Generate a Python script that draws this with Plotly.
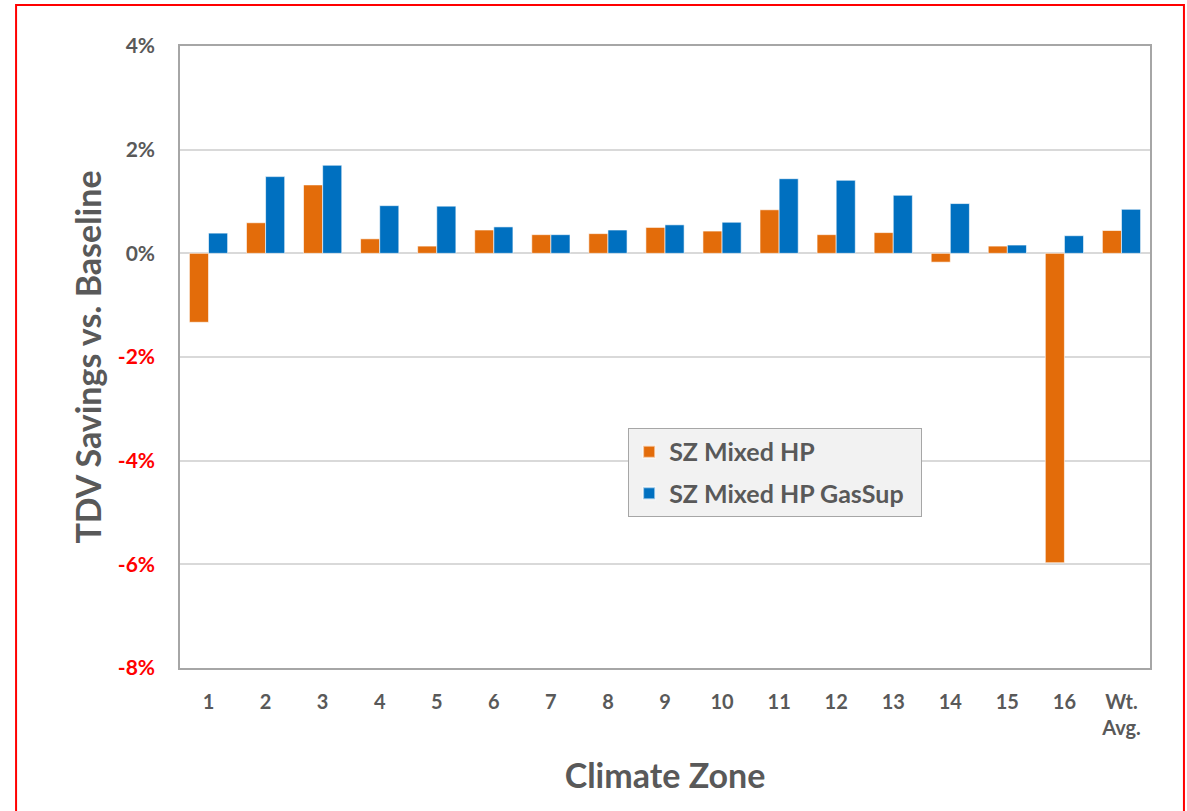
import plotly.graph_objects as go

zones = ["1", "2", "3", "4", "5", "6", "7", "8", "9", "10", "11", "12",
         "13", "14", "15", "16", "Wt.<br>Avg."]
mixed_hp = [-1.33, 0.59, 1.32, 0.28, 0.14, 0.45, 0.36, 0.38, 0.50, 0.43,
            0.84, 0.36, 0.40, -0.17, 0.14, -5.97, 0.44]
mixed_hp_gassup = [0.39, 1.48, 1.70, 0.92, 0.91, 0.51, 0.36, 0.45, 0.55, 0.60,
                   1.44, 1.41, 1.12, 0.96, 0.16, 0.34, 0.85]

tick_vals = [4, 2, 0, -2, -4, -6, -8]
tick_text = ["4%", "2%", "0%",
             "<span style='color:#ff0000'>-2%</span>",
             "<span style='color:#ff0000'>-4%</span>",
             "<span style='color:#ff0000'>-6%</span>",
             "<span style='color:#ff0000'>-8%</span>"]

GREY = "#595959"
FONT = "Lato"

fig = go.Figure()
fig.add_trace(go.Bar(x=zones, y=mixed_hp, name="SZ Mixed HP", legendgroup="a",
                     marker=dict(color="#E36C0A",
                                 line=dict(color="rgba(255,255,255,0.6)", width=1))))
fig.add_trace(go.Bar(x=zones, y=mixed_hp_gassup, name="SZ Mixed HP GasSup&nbsp;&nbsp;",
                     legendgroup="b",
                     marker=dict(color="#0070C0",
                                 line=dict(color="rgba(255,255,255,0.6)", width=1))))

fig.update_layout(
    width=1187, height=811,
    margin=dict(l=180, r=37, t=46, b=143),
    paper_bgcolor="white", plot_bgcolor="white",
    barmode="group", bargap=0.33, bargroupgap=0,
    font=dict(family=FONT, color=GREY),
    showlegend=True,
    legend=dict(x=0.462, y=0.386, xanchor="left", yanchor="top",
                bgcolor="#f2f2f2", bordercolor="#a6a6a6", borderwidth=1,
                font=dict(family=FONT, size=25, color=GREY, weight="bold"),
                itemsizing="constant", tracegroupgap=6),
    xaxis=dict(
        showgrid=False, showline=True, linecolor="#a6a6a6", linewidth=1.5,
        mirror=True, ticks="outside", ticklen=15, tickcolor="rgba(0,0,0,0)",
        tickfont=dict(family=FONT, size=20, color=GREY, weight="bold"),
        title=dict(text="Climate Zone", standoff=26,
                   font=dict(family=FONT, size=34, color=GREY, weight="bold")),
    ),
    yaxis=dict(
        range=[-8, 4], tickvals=tick_vals, ticktext=tick_text,
        showgrid=True, gridcolor="#d9d9d9", gridwidth=1.5,
        zeroline=False,
        showline=True, linecolor="#a6a6a6", linewidth=1.5, mirror=True,
        ticks="outside", ticklen=19, tickcolor="rgba(0,0,0,0)",
        tickfont=dict(family=FONT, size=21, color=GREY, weight="bold"),
        title=dict(text="TDV Savings vs. Baseline", standoff=6,
                   font=dict(family=FONT, size=34, color=GREY, weight="bold")),
    ),
    shapes=[dict(type="rect", xref="paper", yref="paper",
                 x0=-0.169, x1=1.035, y0=-0.24, y1=1.066,
                 line=dict(color="#ff0000", width=2), layer="above")],
)

fig.write_html("out.html")
